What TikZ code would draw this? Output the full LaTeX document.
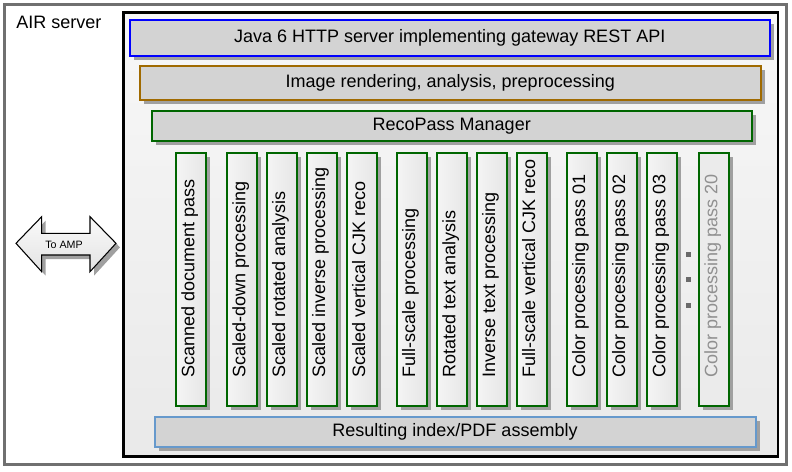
\documentclass[tikz,border=0pt]{standalone}
\usepackage{fontspec}
\setmainfont{Liberation Sans}
\usetikzlibrary{fit,shadows}
\definecolor{outergray}{HTML}{707070}
\definecolor{shadowgray}{HTML}{A0A0A0}
\definecolor{boxfill}{HTML}{D3D3D3}
\definecolor{apiblue}{HTML}{0000FF}
\definecolor{imgbrown}{HTML}{A06A00}
\definecolor{recogreen}{HTML}{006600}
\definecolor{resblue}{HTML}{6699CC}
\definecolor{fadetext}{HTML}{909090}
\definecolor{dotgray}{HTML}{6A6A6A}
\tikzset{
  bigfont/.style={font=\fontsize{13.5}{16}\selectfont},
  shad/.style={drop shadow={shadow xshift=3pt,shadow yshift=-3pt,fill=shadowgray,opacity=1}},
  layerbox/.style={draw=#1,line width=1.5pt,fill=boxfill,inner sep=0pt,shad,bigfont},
  colbox/.style={draw=recogreen,line width=1.5pt,inner sep=0pt,shad,left color=white!92!gray,right color=white!80!gray},
  colboxfaded/.style={draw=recogreen,line width=1.5pt,inner sep=0pt,shad,fill=white!84!gray},
  coltext/.style={rotate=90,anchor=mid west,inner sep=0pt,bigfont},
}
\begin{document}
\begin{tikzpicture}[x=0.75pt,y=-0.75pt]
\useasboundingbox (0,0) rectangle (792,471);
\fill[white] (0,0) rectangle (792,471);
% outer frame
\node[draw=outergray,line width=2pt,fit={(4.5,4.5)(786.5,464.5)},inner sep=0pt] (outer) {};
\node[anchor=base west,inner sep=0pt,bigfont] (airlabel) at (16,28.5) {AIR server};
% inner server box
\node[draw=black,line width=1.6pt,fit={(123.5,12.5)(778,456.5)},inner sep=0pt,top color=white!94!gray,bottom color=white!83!gray] (inner) {};
% layers
\node[layerbox=apiblue,fit={(129.5,19.5)(770,56)}] (api) {};
\node[bigfont] (apit) at (api.center) {Java 6 HTTP server implementing gateway REST API};
\node[layerbox=imgbrown,fit={(139.5,65.5)(761,100)}] (img) {};
\node[bigfont] (imgt) at (img.center) {Image rendering, analysis, preprocessing};
\node[layerbox=recogreen,fit={(151.5,110.5)(752,141)}] (reco) {};
\node[bigfont] (recot) at (reco.center) {RecoPass Manager};
\node[layerbox=resblue,fit={(154.5,416.5)(755.5,446.5)}] (res) {};
\node[bigfont] (rest) at (res.center) {Resulting index/PDF assembly};
% columns
\foreach \i/\xa/\xb/\t in {
  1/175.5/206/Scanned document pass,
  2/226.5/257/Scaled-down processing,
  3/266.5/296.5/Scaled rotated analysis,
  4/306.5/336.5/Scaled inverse processing,
  5/346.5/376.5/Scaled vertical CJK reco,
  6/396.5/426.5/Full-scale processing,
  7/436.5/467/Rotated text analysis,
  8/476.5/506.5/Inverse text processing,
  9/516.5/546.5/Full-scale vertical CJK reco,
  10/566.5/596.5/Color processing pass 01,
  11/606.5/636.5/Color processing pass 02,
  12/646.5/677/Color processing pass 03}{
  \node[colbox,fit={(\xa,152.5)(\xb,405.5)}] (col\i) {};
  \node[coltext] (col\i t) at ([yshift=21.4pt]col\i.south) {\t};
}
\node[colboxfaded,fit={(698.5,152.5)(729,405.5)}] (col13) {};
\node[coltext,text=fadetext] (col13t) at ([yshift=21.4pt]col13.south) {Color processing pass 20};
% ellipsis dots
\foreach \j/\yy in {1/254.5,2/279.5,3/305.5}{
  \node[fill=dotgray,minimum size=3.5pt,inner sep=0pt] (dot\j) at (688.5,\yy) {};
}
% double arrow to AMP
\fill[shadowgray] (20,247.3) -- (45.7,220.7) -- (45.7,237.3) -- (94,237.3) -- (94,220.7) -- (120,247.3) -- (94,275.7) -- (94,259) -- (45.7,259) -- (45.7,275.7) -- cycle;
\draw[black,line width=0.8pt,top color=white!96!gray,bottom color=white!78!gray] (16,243.3) -- (41.7,216.7) -- (41.7,233.3) -- (90,233.3) -- (90,216.7) -- (116,243.3) -- (90,271.7) -- (90,255) -- (41.7,255) -- (41.7,271.7) -- cycle;
\node[font=\fontsize{8}{10}\selectfont,inner sep=0pt] (amp) at (64,245) {To AMP};
\end{tikzpicture}
\end{document}
